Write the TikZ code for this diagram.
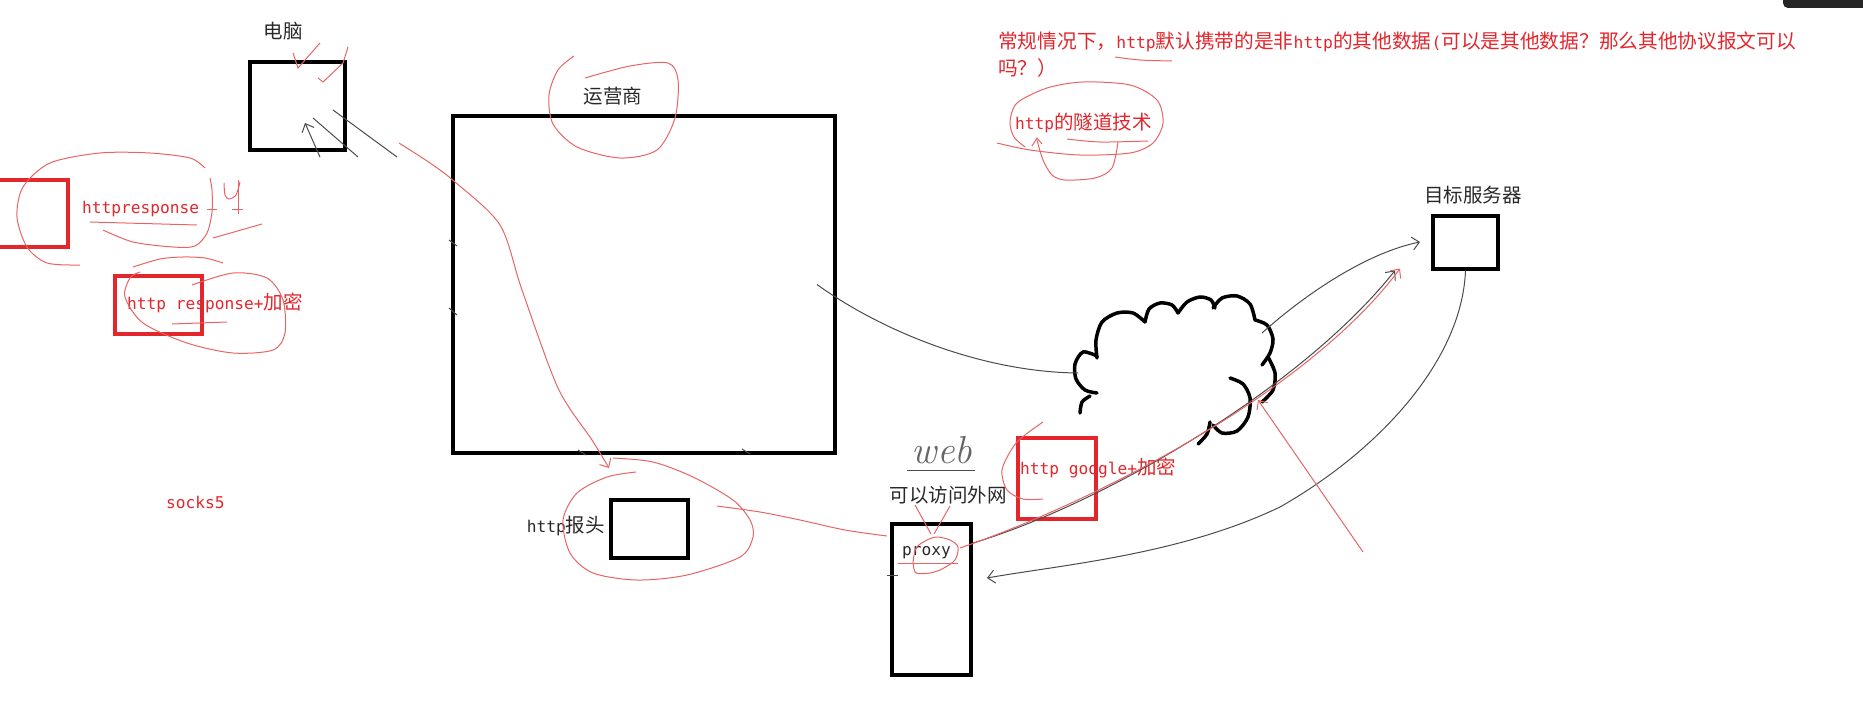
\documentclass[tikz,border=0pt]{standalone}
\usepackage{fontspec}
\setmainfont{Noto Sans CJK SC}
\newfontfamily\enmono[Scale=0.83]{DejaVu Sans Mono}
\newfontfamily\handfont{Latin Modern Roman}
\usetikzlibrary{arrows.meta}
\definecolor{inkred}{RGB}{226,38,44}
\definecolor{penred}{RGB}{232,100,100}
\definecolor{pengrey}{RGB}{75,75,75}
\definecolor{inkgrey}{RGB}{40,40,40}

\begin{document}
\begin{tikzpicture}[x=1pt,y=-1pt,
    blkbox/.style={draw=black, line width=4pt, inner sep=0pt},
    redbox/.style={draw=inkred, line width=3.5pt, inner sep=0pt},
    lbl/.style={text=inkgrey, inner sep=0pt, font=\fontsize{19.5pt}{23pt}\selectfont},
    rlbl/.style={lbl, text=inkred},
    gpen/.style={draw=pengrey, line width=1pt},
    rpen/.style={draw=penred, line width=1pt},
    cloudpen/.style={line width=3.5pt, line cap=round},
    barb/.style={-{Straight Barb[length=7pt,width=13pt]}}]
    \useasboundingbox (0,0) rectangle (1863,717);
    \fill[black!85, rounded corners=5pt] (1783,-10) rectangle (1875,8);

    % boxes
    \node[blkbox, minimum width=95pt, minimum height=88pt] (pc) at (297.5,106) {};
    \node[blkbox, minimum width=382pt, minimum height=337pt] (isp) at (644,284.5) {};
    \node[blkbox, minimum width=77pt, minimum height=58pt] (hdr) at (649.5,529) {};
    \node[blkbox, minimum width=79pt, minimum height=151pt] (proxy) at (931.5,599.5) {};
    \node[blkbox, minimum width=65pt, minimum height=53pt] (target) at (1465.5,242) {};
    \node[redbox, minimum width=73pt, minimum height=67pt] (rbox) at (31.5,213.5) {};
    \node[redbox, minimum width=87pt, minimum height=58pt] (rrbox) at (158.5,305) {};
    \node[redbox, minimum width=78pt, minimum height=81pt] (gbox) at (1057,478.5) {};

    % labels
    \node[lbl] (pclbl) at (283,31) {电脑};
    \node[lbl] (isplbl) at (613,96) {运营商};
    \node[lbl] (tgtlbl) at (1473,195) {目标服务器};
    \node[lbl, anchor=east] (hdrlbl) at (605,526) {{\enmono http}报头};
    \node[lbl, anchor=west] (proxylbl) at (902,553) {\enmono proxy};
    \node[lbl] (outnet) at (948,495) {可以访问外网};
    \node[text=pengrey!85, inner sep=0pt, font=\handfont\itshape\fontsize{39pt}{40pt}\selectfont] (web) at (942,450) {web};
    \node[rlbl, anchor=west, font=\fontsize{19.7pt}{23pt}\selectfont] (note1) at (998,42) {常规情况下，{\enmono http}默认携带的是非{\enmono http}的其他数据{\enmono (}可以是其他数据？那么其他协议报文可以};
    \node[rlbl, anchor=west, font=\fontsize{19.7pt}{23pt}\selectfont] (note2) at (998,68) {吗？）};
    \node[rlbl, anchor=west] (tunnel) at (1015,123) {{\enmono http}的隧道技术};
    \node[rlbl, anchor=west] (resp) at (82,209) {\enmono httpresponse};
    \node[rlbl, anchor=west] (respenc) at (127,303) {{\enmono http response+}加密};
    \node[rlbl, anchor=west] (socks) at (166,502) {\enmono socks5};
    \node[rlbl, anchor=west] (google) at (1020,468) {{\enmono http google+}加密};

    % cloud
    \coordinate (cl) at (1078,373);
    \coordinate (cr) at (1262,333);
    \coordinate (cb) at (1258,400);
    \coordinate (rtail) at (1363,552);
    \draw[cloudpen] plot[smooth] coordinates {(1080,413) (1082,402) (1090,396)};
    \draw[cloudpen] plot[smooth] coordinates {(1097,356) (1083,352) (1075,364) (1076,379) (1085,390) (1097,393)};
    \draw[cloudpen] plot[smooth] coordinates {(1097,358) (1096,340) (1102,322) (1117,313) (1133,313) (1145,322)};
    \draw[cloudpen] plot[smooth] coordinates {(1145,322) (1149,309) (1160,303) (1172,305) (1178,313)};
    \draw[cloudpen] plot[smooth] coordinates {(1178,313) (1187,302) (1200,297) (1211,300) (1215,308)};
    \draw[cloudpen] plot[smooth] coordinates {(1213,308) (1222,298) (1237,296) (1250,304) (1255,320)};
    \draw[cloudpen] plot[smooth] coordinates {(1255,320) (1267,325) (1273,339) (1270,353) (1262,365)};
    \draw[cloudpen] plot[smooth] coordinates {(1268,357) (1275,373) (1273,390) (1262,402)};
    \draw[cloudpen] plot[smooth] coordinates {(1230,378) (1243,384) (1250,398) (1248,417) (1237,431) (1222,433) (1213,425)};
    \draw[cloudpen] plot[smooth] coordinates {(1210,422) (1207,434) (1198,444)};

    % grey pen
    \draw[gpen, barb] (320,157) -- (305,123);
    \draw[gpen] (313,118) -- (358,157);
    \draw[gpen] (333,110) -- (397,157);
    \draw[gpen] (449,240) -- (457,246);
    \draw[gpen] (449,308) -- (457,315);
    \draw[gpen] (578,450) -- (586,455);
    \draw[gpen] (742,449) -- (750,454);
    \draw[gpen] ([xshift=-20pt]isp.east) .. controls (880,330) and (980,372) .. (cl);
    \draw[gpen, barb] (cr) .. controls (1310,290) and (1370,252) .. ([xshift=-11pt]target.west);
    \draw[gpen, barb] ([yshift=-21pt]proxy.north east) .. controls (1100,505) and (1300,390) .. ([xshift=-36pt]target.south west);
    \draw[gpen, barb] (target.south) .. controls (1462,360) and (1380,450) .. (1280,507)
        .. controls (1180,555) and (1060,565) .. (987,578);
    \draw[gpen] (907,470) -- (975,470);
    \draw[gpen] (887,575) -- (898,575);

    % red pen
    \draw[rpen] (293,53) -- (298,68) -- (320,43);
    \draw[rpen] (318,78) -- (323,82) -- (343,63) -- (348,47);
    \draw[rpen, barb] plot[smooth] coordinates {(399,143) (430,163) (455,182) (500,225) (522,290) (558,388) (592,440) ([yshift=30pt]hdr.north west)};
    \draw[rpen] plot[smooth] coordinates {(585,78) (630,66) (668,63) (678,80) (675,118) (657,150) (620,158) (577,147) (553,124) (549,95) (558,70) (574,56)};
    \draw[rpen] plot[smooth] coordinates {(636,472) (607,477) (577,493) (563,520) (570,553) (593,573) (637,580) (687,575) (740,557) (753,537) (750,520) (733,500) (693,477) (653,462) (613,458)};
    \draw[rpen] plot[smooth] coordinates {(717,506) (760,512) (800,520) (845,530) (887,536)};
    \draw[rpen] plot[smooth] coordinates {(205,168) (190,158) (150,153) (100,153) (50,163) (23,187) (17,217) (27,247) (47,263) (80,265)};
    \draw[rpen] (90,222) -- (197,225);
    \draw[rpen] plot[smooth] coordinates {(103,230) (133,242) (173,247) (195,246) (207,233) (212,212) (212,190) (210,178)};
    \draw[rpen] plot[smooth] coordinates {(224,183) (225,195) (229,199) (236,195) (240,182)};
    \draw[rpen] (238,180) -- (238,214);
    \draw[rpen] (207,209) -- (217,209);
    \draw[rpen] (232,209) -- (243,209);
    \draw[rpen] (213,238) -- (262,224);
    \draw[rpen] plot[smooth] coordinates {(133,267) (160,259) (183,257) (205,258) (223,263)};
    \draw[rpen] plot[smooth] coordinates {(192,285) (233,273) (267,278) (283,300) (285,333) (273,350) (233,353) (187,343) (143,323) (125,297) (130,278) (140,272)};
    \draw[rpen] (172,324) -- (227,322);
    \draw[rpen] plot[smooth] coordinates {(1115,57) (1140,60) (1172,61)};
    \draw[rpen] plot[smooth] coordinates {(997,143) (1030,150) (1080,155) (1130,153) (1153,143) (1163,123) (1157,100) (1130,85) (1083,82) (1047,88) (1017,103) (1010,122) (1014,137) (1025,147)};
    \draw[rpen] plot[smooth] coordinates {(1067,139) (1100,142) (1148,141)};
    \draw[rpen] (1032,146) -- (1037,138) -- (1042,144);
    \draw[rpen] plot[smooth] coordinates {(1037,140) (1043,160) (1052,175) (1065,180) (1095,178) (1112,168) (1118,142)};
    \draw[rpen] plot[smooth] coordinates {(1043,422) (1025,435) (1013,447) (1002,470) (1007,490) (1023,499) (1043,499)};
    \draw[rpen] plot[smooth] coordinates {(913,563) (916,548) (927,540) (937,537) (950,540) (958,547) (955,560) (942,569) (930,573) (916,573) (913,563)};
    \draw[rpen] (898,563) -- (958,563);
    \draw[rpen] (915,505) -- (931,534);
    \draw[rpen] (950,506) -- (934,534);
    \draw[rpen, barb] ([xshift=-13pt,yshift=-26pt]proxy.north east) .. controls (1100,500) and (1310,390) .. ([xshift=-31pt,yshift=2pt]target.south west);
    \draw[rpen, barb] (rtail) -- (cb);
\end{tikzpicture}
\end{document}
